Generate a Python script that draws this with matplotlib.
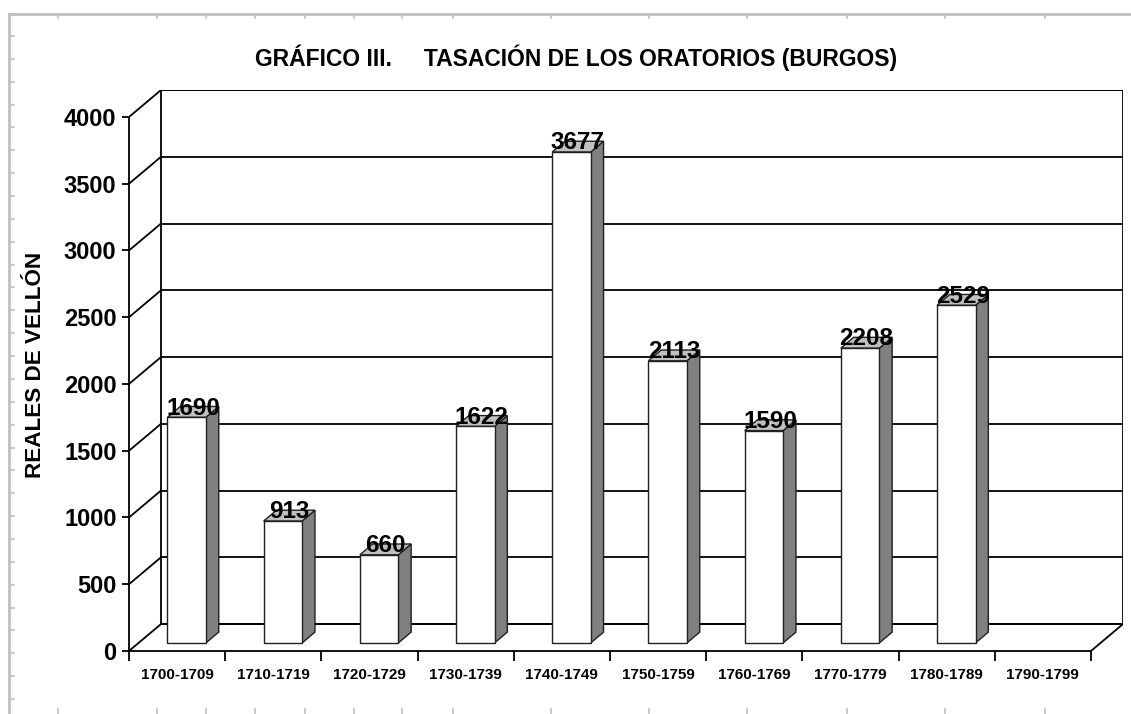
import numpy as np
import matplotlib
matplotlib.use("Agg")
import matplotlib.pyplot as plt
from matplotlib.patches import Rectangle, Polygon

plt.rcParams['font.family'] = ['Liberation Sans', 'DejaVu Sans']
plt.rcParams['font.weight'] = 'bold'

# Data
decades = ['1700-1709', '1710-1719', '1720-1729', '1730-1739', '1740-1749',
           '1750-1759', '1760-1769', '1770-1779', '1780-1789', '1790-1799']
reales = [1690, 913, 660, 1622, 3677, 2113, 1590, 2208, 2529, np.nan]
yticks = np.arange(0, 4001, 500)

# 3D look: depth of the floor in data units, bar sits between depth fractions
DX = 0.333
DY = 202
D_FRONT, D_BACK = 0.3, 0.7
BAR_L, BAR_R = 0.3, 0.7

W, H = 1131, 714
fig = plt.figure(figsize=(W / 100, H / 100), dpi=100)

# page ruler decoration around the chart area
deco = fig.add_axes([0, 0, 1, 1], zorder=-5)
deco.set_xlim(0, W)
deco.set_ylim(H, 0)
deco.axis('off')
gcol = '#c0c0c0'
deco.plot([9, 9], [14, H], color=gcol, lw=2)
deco.plot([9, W], [14, 14], color=gcol, lw=2)
for tx in [58, 157, 206, 255, 305, 354, 402, 453, 551, 649, 747, 847, 945, 1045]:
    deco.plot([tx, tx], [14, 18], color=gcol, lw=1.2)
    deco.plot([tx, tx], [709, H], color=gcol, lw=1.2)
for ty in np.linspace(36, 699, 30):
    deco.plot([9, 14], [ty, ty], color=gcol, lw=1.2)

ax = fig.add_axes([129 / W, 63 / H, (1123 - 129) / W, (651 - 90) / H])
n = len(decades)
ax.set_xlim(0, n + DX)
ax.set_ylim(0, 4000 + DY)
ax.patch.set_visible(False)

# back wall, side wall, floor
ax.add_patch(Rectangle((DX, DY), n, 4000, facecolor='white', edgecolor='black', lw=1.3, zorder=1))
for v in yticks:
    ax.plot([DX, n + DX], [v + DY, v + DY], color='black', lw=1.3, zorder=1)
    ax.plot([0, DX], [v, v + DY], color='black', lw=1.3, zorder=1)
ax.plot([n, n + DX], [0, DY], color='black', lw=1.3, zorder=1)

# bars
for i, v in enumerate(reales):
    if np.isnan(v):
        continue
    x0 = i + BAR_L + D_FRONT * DX
    x1 = i + BAR_R + D_FRONT * DX
    y0 = D_FRONT * DY
    ddx = (D_BACK - D_FRONT) * DX
    ddy = (D_BACK - D_FRONT) * DY
    ax.add_patch(Polygon([(x1, y0), (x1 + ddx, y0 + ddy), (x1 + ddx, v + y0 + ddy), (x1, v + y0)],
                         closed=True, facecolor='#808080', edgecolor='#202020', lw=1, zorder=3))
    ax.add_patch(Polygon([(x0, v + y0), (x0 + ddx, v + y0 + ddy), (x1 + ddx, v + y0 + ddy), (x1, v + y0)],
                         closed=True, facecolor='#c0c0c0', edgecolor='#202020', lw=1, zorder=3))
    ax.add_patch(Rectangle((x0, y0), x1 - x0, v, facecolor='white', edgecolor='#202020', lw=1, zorder=3))
    ax.text(i + 0.5 + 0.5 * DX, v + y0 + 20, f'{int(v)}', ha='center', va='baseline',
            fontsize=17.5, fontweight='bold', zorder=5)

# axes
for s in ['top', 'right']:
    ax.spines[s].set_visible(False)
ax.spines['left'].set_bounds(0, 4000)
ax.spines['bottom'].set_bounds(0, n)
ax.spines['left'].set_linewidth(1.3)
ax.spines['bottom'].set_linewidth(1.3)
ax.set_yticks(yticks)
ax.set_yticklabels([str(v) for v in yticks], fontsize=17, fontweight='bold')
ax.tick_params(axis='y', direction='out', length=5, width=1.3, pad=4)
ax.set_xticks(np.arange(n + 1))
ax.set_xticklabels([])
ax.set_xticks(np.arange(n) + 0.5, minor=True)
ax.set_xticklabels(decades, minor=True, fontsize=11, fontweight='bold')
ax.tick_params(axis='x', which='major', direction='out', length=7, width=1.3)
ax.tick_params(axis='x', which='minor', length=0, pad=12)

fig.text(576 / W, 1 - 58 / H, 'GRÁFICO III.     TASACIÓN DE LOS ORATORIOS (BURGOS)',
         ha='center', va='center', fontsize=16.5, fontweight='bold')
fig.text(36 / W, 1 - 365 / H, 'REALES DE VELLÓN', rotation=90, ha='center', va='center',
         fontsize=16.2, fontweight='bold')

fig.savefig('out.png', dpi=100)
